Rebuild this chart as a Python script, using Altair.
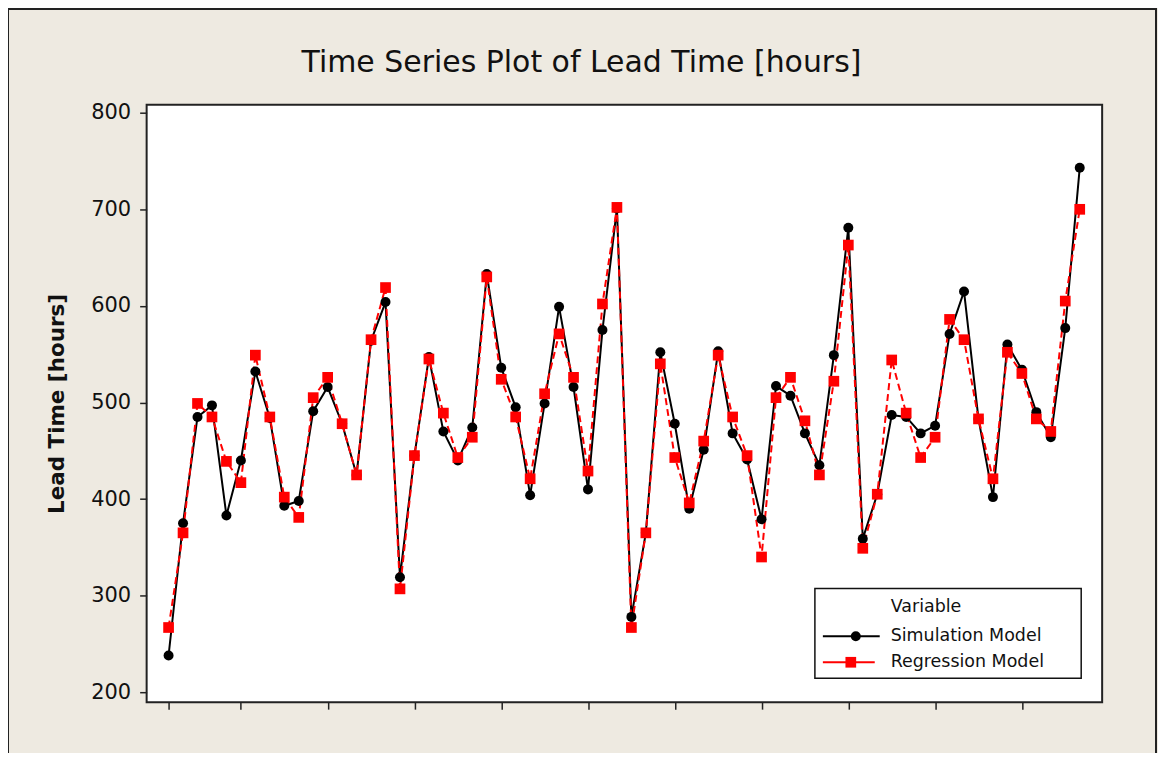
import altair as alt
import pandas as pd

# ---- data ----
index = list(range(1, 65))
simulation = [238, 375, 485, 497, 383, 440, 532, 484, 393, 398,
              491, 516, 478, 425, 564, 604, 319, 445, 547, 470,
              440, 474, 633, 536, 495, 404, 499, 599, 516, 410,
              575, 701, 278, 365, 552, 478, 390, 451, 553, 468,
              441, 379, 517, 507, 468, 435, 549, 681, 359, 405,
              487, 485, 468, 476, 571, 615, 483, 402, 560, 534,
              490, 464, 577, 743]
regression = [267, 365, 499, 485, 439, 417, 549, 485, 402, 381,
              505, 526, 478, 425, 565, 619, 307, 445, 545, 489,
              443, 464, 630, 524, 485, 421, 509, 571, 526, 429,
              602, 702, 267, 365, 540, 443, 396, 460, 549, 485,
              445, 340, 505, 526, 481, 425, 522, 663, 349, 405,
              544, 489, 443, 464, 586, 565, 483, 421, 552, 530,
              483, 470, 605, 700]
x_tick_values = [1, 6, 12, 18, 24, 30, 36, 42, 48, 54, 60]
y_tick_values = [200, 300, 400, 500, 600, 700, 800]
series_names = ["Simulation Model", "Regression Model"]
title_text = "Time Series Plot of Lead Time [hours]"

sim_df = pd.DataFrame({"Index": index, "value": simulation, "Variable": series_names[0]})
reg_df = pd.DataFrame({"Index": index, "value": regression, "Variable": series_names[1]})

FONT = "DejaVu Sans"
BG = "#EEEAE1"

x_enc = alt.X("Index:Q",
              scale=alt.Scale(domain=[-0.517, 65.55], nice=False, zero=False),
              axis=alt.Axis(values=x_tick_values, labels=False, title=None,
                            domain=False, grid=False, ticks=True, tickSize=7,
                            tickColor="#222", tickWidth=1.5))
y_enc = alt.Y("value:Q",
              scale=alt.Scale(domain=[189.7, 808.3], nice=False, zero=False),
              axis=alt.Axis(values=y_tick_values, title="Lead Time [hours]",
                            domain=False, grid=False, tickSize=7, tickColor="#222",
                            tickWidth=1.5, labelPadding=9, labelFontSize=21,
                            labelFont=FONT, labelColor="#111",
                            titleFont=FONT, titleFontSize=21.5, titleFontWeight="bold",
                            titleColor="#111", titlePadding=22))

sim_line = alt.Chart(sim_df).mark_line(color="black", strokeWidth=2).encode(x=x_enc, y=y_enc)
reg_line = alt.Chart(reg_df).mark_line(color="#FF0000", strokeWidth=2,
                                       strokeDash=[7, 4]).encode(x=x_enc, y=y_enc)
sim_pts = alt.Chart(sim_df).mark_point(shape="circle", filled=True, color="black",
                                       size=100, opacity=1).encode(x=x_enc, y=y_enc)
reg_pts = alt.Chart(reg_df).mark_point(shape="square", filled=True, color="#FF0000",
                                       size=115, opacity=1).encode(x=x_enc, y=y_enc)

one = pd.DataFrame({"a": [0]})

# ---- chart title as a text mark (above the plot frame) ----
title_mark = alt.Chart(one).mark_text(text=title_text, align="center", baseline="middle",
                                      font=FONT, fontSize=30, color="#111").encode(
    x=alt.value(436), y=alt.value(-42))

# ---- manual legend (Minitab style box inside the plot) ----
legend_box = alt.Chart(one).mark_rect(fill="white", stroke="#111", strokeWidth=1.5).encode(
    x=alt.value(670), x2=alt.value(937), y=alt.value(485), y2=alt.value(575))
legend_title = alt.Chart(one).mark_text(text="Variable", align="left", baseline="middle",
                                        font=FONT, fontSize=17.5, color="#111").encode(
    x=alt.value(746), y=alt.value(504))
sim_leg_line = alt.Chart(one).mark_rule(color="black", strokeWidth=2).encode(
    x=alt.value(678), x2=alt.value(735), y=alt.value(533))
sim_leg_pt = alt.Chart(one).mark_point(shape="circle", filled=True, color="black",
                                       size=100, opacity=1).encode(x=alt.value(711), y=alt.value(533))
sim_leg_txt = alt.Chart(one).mark_text(text=series_names[0], align="left", baseline="middle",
                                       font=FONT, fontSize=17.5, color="#111").encode(
    x=alt.value(746), y=alt.value(533))
reg_leg_line = alt.Chart(one).mark_rule(color="#FF0000", strokeWidth=2).encode(
    x=alt.value(678), x2=alt.value(730), y=alt.value(559))
reg_leg_pt = alt.Chart(one).mark_point(shape="square", filled=True, color="#FF0000",
                                       size=115, opacity=1).encode(x=alt.value(706), y=alt.value(559))
reg_leg_txt = alt.Chart(one).mark_text(text=series_names[1], align="left", baseline="middle",
                                       font=FONT, fontSize=17.5, color="#111").encode(
    x=alt.value(746), y=alt.value(559))

# outer frame of the whole picture
outer = alt.Chart(one).mark_rect(fill=None, stroke="#222", strokeWidth=2).encode(
    x=alt.value(-139), x2=alt.value(1012), y=alt.value(-96), y2=alt.value(720))

chart = alt.layer(
    outer, title_mark, sim_line, reg_line, sim_pts, reg_pts,
    legend_box, legend_title, sim_leg_line, sim_leg_pt, sim_leg_txt,
    reg_leg_line, reg_leg_pt, reg_leg_txt
).properties(
    width=958, height=599,
    background=BG,
    padding={"left": 139, "top": 96, "right": 56, "bottom": 50},
    autosize=alt.AutoSizeParams(type="none"),
).configure_view(
    stroke="#222", strokeWidth=2, fill="white"
)

chart.save("out.html", embed_options={"renderer": "svg", "actions": False})
